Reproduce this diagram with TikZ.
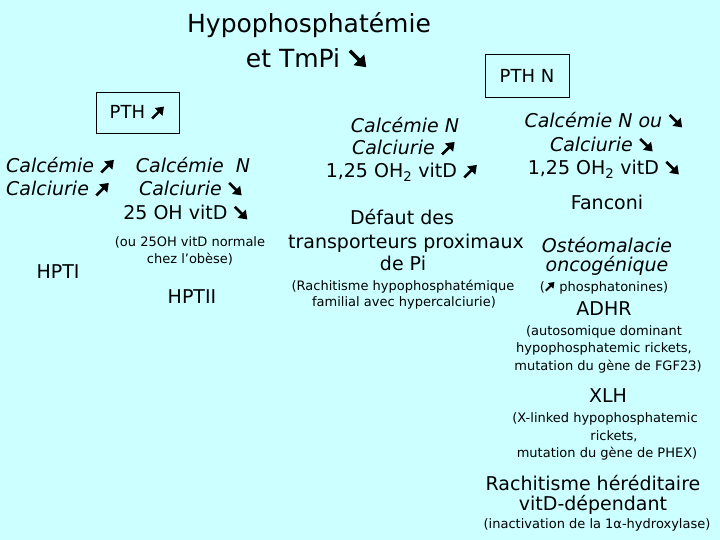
\documentclass[tikz,border=0pt]{standalone}
\usepackage{fontspec}
\usetikzlibrary{arrows.meta}
\setmainfont{DejaVu Sans}
\definecolor{bg}{HTML}{CCFFFF}
\tikzset{
  heavyarrow/.style={line width=0.14em, -{Triangle[length=0.42em,width=0.58em]}},
}
\newcommand{\ua}{\tikz[baseline=0pt]\draw[heavyarrow] (0,0.03em) -- (0.66em,0.69em);}
\newcommand{\da}{\tikz[baseline=0pt]\draw[heavyarrow] (0,0.69em) -- (0.66em,0.03em);}
\tikzset{
  txt/.style={inner sep=0pt, anchor=base},
  big/.style={txt, font=\fontsize{19}{23}\selectfont},
  sm/.style={txt, font=\fontsize{13}{16}\selectfont},
  ttl/.style={txt, font=\fontsize{25}{30}\selectfont},
  framebox/.style={draw, line width=0.8pt, inner sep=0pt, font=\fontsize{18}{22}\selectfont},
}
\begin{document}
\begin{tikzpicture}[x=1pt,y=-1pt]
\fill[bg] (0,0) rectangle (720,540);
\useasboundingbox (0,0) rectangle (720,540);
% title
\node[ttl] (t1) at (309,33) {Hypophosphatémie};
\node[ttl] (t2) at (307,68) {et TmPi \da};
% boxes
\node[framebox, minimum width=84, minimum height=43] (pthn) at (527,75.5) {PTH N};
\node[framebox, minimum width=83, minimum height=41] (pthup) at (137.5,112.5) {PTH \ua};
% left column
\node[big, anchor=base west] (l1) at (6,173) {\itshape Calcémie \ua};
\node[big, anchor=base west] (l2) at (6,196) {\itshape Calciurie \ua};
\node[big] (hpt1) at (58,278) {HPTI};
% mid-left column
\node[big] (m1) at (193,173) {\itshape Calcémie~~N};
\node[big] (m2) at (191,196) {\itshape Calciurie \da};
\node[big] (m3) at (186,220) {25 OH vitD \da};
\node[sm] (m4) at (190,247) {(ou 25OH vitD normale};
\node[sm] (m5) at (190,263) {chez l’obèse)};
\node[big] (hpt2) at (192,303) {HPTII};
% middle column
\node[big] (c1) at (405,133) {\itshape Calcémie N};
\node[big] (c2) at (404,155) {\itshape Calciurie \ua};
\node[big] (c3) at (402,178) {1,25 OH\textsubscript{2} vitD \ua};
\node[big] (c4) at (402,225) {Défaut des};
\node[big] (c5) at (406,248) {transporteurs proximaux};
\node[big] (c6) at (403,270) {de Pi};
\node[sm] (c7) at (403,290) {(Rachitisme hypophosphatémique};
\node[sm] (c8) at (404,306) {familial avec hypercalciurie)};
% right column
\node[big] (r1) at (604,128) {\itshape Calcémie N ou \da};
\node[big] (r2) at (602,152) {\itshape Calciurie \da};
\node[big] (r3) at (604,175) {1,25 OH\textsubscript{2} vitD \da};
\node[big] (r4) at (607,210) {Fanconi};
\node[big] (r5) at (607,252) {\itshape Ostéomalacie};
\node[big] (r6) at (607,271) {\itshape oncogénique};
\node[sm] (r7) at (604,291) {(\ua{} phosphatonines)};
\node[big] (r8) at (604,315) {ADHR};
\node[sm] (r9) at (604,335) {(autosomique dominant};
\node[sm] (r10) at (604,352) {hypophosphatemic rickets,};
\node[sm] (r11) at (608,370) {mutation du gène de FGF23)};
\node[big] (r12) at (608,402) {XLH};
\node[sm] (r13) at (605,422) {(X-linked hypophosphatemic};
\node[sm] (r14) at (614,440) {rickets,};
\node[sm] (r15) at (607,457) {mutation du gène de PHEX)};
\node[big] (r16) at (593,490) {Rachitisme héréditaire};
\node[big] (r17) at (593,510) {vitD-dépendant};
\node[sm] (r18) at (597,528) {(inactivation de la 1α-hydroxylase)};
\end{tikzpicture}
\end{document}
